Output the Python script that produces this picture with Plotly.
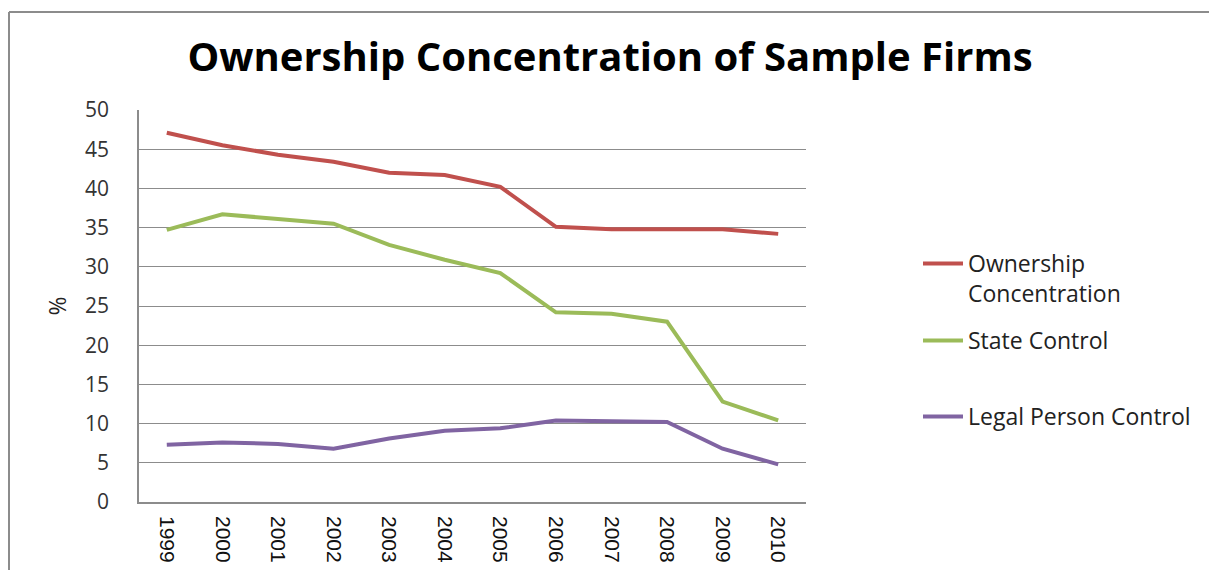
import plotly.graph_objects as go

years = ["1999", "2000", "2001", "2002", "2003", "2004", "2005", "2006", "2007", "2008", "2009", "2010"]
ownership_concentration = [47.1, 45.5, 44.3, 43.4, 42.0, 41.7, 40.2, 35.1, 34.8, 34.8, 34.8, 34.2]
state_control = [34.7, 36.7, 36.1, 35.5, 32.8, 30.9, 29.2, 24.2, 24.0, 23.0, 12.8, 10.4]
legal_person_control = [7.3, 7.6, 7.4, 6.8, 8.1, 9.1, 9.4, 10.4, 10.3, 10.2, 6.8, 4.8]
y_ticks = [0, 5, 10, 15, 20, 25, 30, 35, 40, 45, 50]

W, H = 1209, 570
L, R, T, B = 139, 1209 - 806, 110, 570 - 502
pw, ph = W - L - R, H - T - B

# each series gets its own legend box so the rows can be spaced freely
series = [
    ("Ownership<br>Concentration", ownership_concentration, "#C0504D", "legend", 242),
    ("State Control", state_control, "#9BBB59", "legend2", 319),
    ("Legal Person Control", legal_person_control, "#8064A2", "legend3", 395),
]

fig = go.Figure()
legend_layout = {}
for name, values, color, leg, top_px in series:
    fig.add_trace(go.Scatter(
        x=years, y=values, name=name, mode="lines",
        line=dict(color=color, width=4), legend=leg,
    ))
    legend_layout[leg] = dict(
        x=(918 - L) / pw, xanchor="left",
        y=1 - (top_px - T) / ph, yanchor="top",
        font=dict(family="Open Sans", size=23, color="#222222"),
        valign="top", itemwidth=40,
        bgcolor="rgba(0,0,0,0)",
    )

fig.update_layout(
    width=W, height=H,
    margin=dict(l=L, r=R, t=T, b=B),
    paper_bgcolor="white", plot_bgcolor="white",
    title=dict(
        text="<b>Ownership Concentration of Sample Firms</b>",
        x=610 / W, xref="container", xanchor="center",
        y=1 - 57 / H, yref="container", yanchor="middle",
        font=dict(family="Open Sans", size=40, color="black"),
    ),
    showlegend=True,
    xaxis=dict(
        type="category", range=[-0.5, 11.5], tickangle=90, automargin=False,
        tickfont=dict(family="Liberation Sans", size=21, color="#111111"),
        showgrid=False, showline=True, linecolor="#8c8c8c", linewidth=1.5,
        ticks="", ticklabelstandoff=8,
    ),
    yaxis=dict(
        range=[0, 50], tickvals=y_ticks, automargin=False,
        tickfont=dict(family="Open Sans", size=21, color="#333333"),
        showgrid=True, gridcolor="#8c8c8c", gridwidth=1,
        showline=True, linecolor="#8c8c8c", linewidth=1.5,
        zeroline=False, ticks="", ticklabelstandoff=24,
        title=dict(text="%", font=dict(family="Open Sans", size=23, color="#222222"), standoff=12),
    ),
    **legend_layout,
)

# outer chart frame (left and top edges visible)
fx0 = (9 - L) / pw
fy1 = 1 + (T - 12) / ph
fig.add_shape(type="line", xref="paper", yref="paper", x0=fx0, x1=fx0, y0=-0.3, y1=fy1,
              line=dict(color="#8c8c8c", width=2))
fig.add_shape(type="line", xref="paper", yref="paper", x0=fx0, x1=(W + 10 - L) / pw, y0=fy1, y1=fy1,
              line=dict(color="#8c8c8c", width=2))

fig.write_html("out.html")
